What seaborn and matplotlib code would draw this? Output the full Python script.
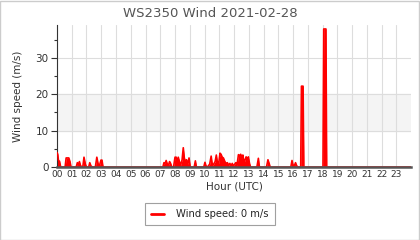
import matplotlib
matplotlib.use("Agg")
import matplotlib.pyplot as plt
import seaborn as sns
import pandas as pd
from matplotlib.patches import Rectangle
from matplotlib.ticker import MultipleLocator

title = "WS2350 Wind 2021-02-28"
x_label = "Hour (UTC)"
y_label = "Wind speed (m/s)"
legend_label = "Wind speed: 0 m/s"
hour_labels = [f"{h:02d}" for h in range(24)]

hours = [0.0, 0.05, 0.1, 0.17, 0.25, 0.55, 0.62, 0.7, 0.8, 0.88, 0.95, 1.3, 1.38, 1.45, 1.52, 1.6,
         1.75, 1.83, 1.92, 2.0, 2.15, 2.22, 2.3, 2.4, 2.6, 2.7, 2.78, 2.85, 2.98, 3.05, 3.12,
         7.18, 7.25, 7.33, 7.4, 7.48, 7.56, 7.63, 7.7, 7.78, 7.9, 8.0, 8.08, 8.15, 8.22, 8.3, 8.38,
         8.48, 8.56, 8.63, 8.7, 8.78, 8.86, 8.95, 9.03, 9.3, 9.38, 9.45, 9.95, 10.03, 10.1, 10.2,
         10.35, 10.45, 10.53, 10.62, 10.72, 10.8, 10.88, 10.96, 11.05, 11.12, 11.2, 11.28, 11.38,
         11.46, 11.55, 11.63, 11.72, 11.8, 11.88, 11.96, 12.05, 12.12, 12.2, 12.3, 12.38, 12.45,
         12.52, 12.6, 12.68, 12.75, 12.82, 12.9, 12.97, 13.05, 13.12, 13.55, 13.65, 13.72, 14.2,
         14.3, 14.38, 14.45, 15.85, 15.93, 16.0, 16.1, 16.17, 16.25, 16.35, 16.52, 16.57, 16.68,
         16.73, 18.03, 18.08, 18.23, 18.28, 24.0]
speeds = [4.0, 3.5, 1.8, 1.6, 0.0, 0.0, 2.5, 2.5, 2.5, 1.5, 0.0, 0.0, 1.2, 0.6, 1.5, 0.3,
          0.0, 2.7, 0.8, 0.0, 0.0, 1.2, 0.3, 0.0, 0.0, 2.7, 1.0, 0.0, 1.9, 1.9, 0.0,
          0.0, 1.2, 1.0, 1.8, 0.8, 0.5, 1.5, 1.0, 0.0, 0.0, 2.7, 2.7, 1.2, 2.7, 1.5, 0.5,
          2.0, 5.3, 2.5, 1.5, 2.0, 0.8, 2.5, 0.0, 0.0, 1.7, 0.0, 0.0, 1.3, 0.3, 0.0,
          0.8, 3.0, 0.5, 0.8, 1.5, 3.3, 1.0, 1.0, 3.8, 3.5, 2.7, 2.5, 1.5,
          1.0, 1.2, 0.5, 1.0, 0.3, 1.0, 0.3, 0.8, 1.2, 0.5, 3.4, 3.0, 3.5,
          2.5, 3.3, 1.0, 2.0, 2.8, 2.0, 2.8, 1.0, 0.0, 0.0, 2.4, 0.0, 0.0,
          2.0, 1.0, 0.0, 0.0, 1.8, 0.5, 0.5, 1.2, 0.3, 0.0, 0.0, 22.2, 22.2,
          0.0, 0.0, 37.9, 37.9, 0.0, 0.0]

df = pd.DataFrame({"hour": hours, "speed": speeds})

sns.set_style("white")
plt.rcParams["font.family"] = ["DejaVu Sans"]

fig = plt.figure(figsize=(4.2, 2.4), dpi=100)
ax = fig.add_axes([0.1357, 0.304, 0.843, 0.592])

ax.axhspan(10, 20, color="#f4f4f4", zorder=0)
ax.fill_between(df["hour"], 0, df["speed"], color="#ff0000", linewidth=0, zorder=2)
sns.lineplot(data=df, x="hour", y="speed", ax=ax, color="#ff0000", linewidth=1.2,
             label=legend_label, zorder=3)

ax.set_xlim(0, 24)
ax.set_ylim(0, 39)
ax.set_xticks(range(24))
ax.set_xticklabels(hour_labels)
ax.set_yticks([0, 10, 20, 30])
ax.yaxis.set_minor_locator(MultipleLocator(5))
ax.grid(True, axis="both", which="major", color="#dddddd", linewidth=0.8, zorder=1)
ax.set_axisbelow(True)

ax.tick_params(axis="x", labelsize=6.5, colors="#333333", length=0, pad=2)
ax.tick_params(axis="y", which="major", labelsize=7.5, colors="#333333", length=4, width=0.8,
               left=True, pad=2)
ax.tick_params(axis="y", which="minor", length=2.5, width=0.8, left=True, color="#333333")

for s in ["top", "right"]:
    ax.spines[s].set_visible(False)
ax.spines["left"].set_color("#333333")
ax.spines["left"].set_linewidth(0.8)
ax.spines["bottom"].set_color("#555555")
ax.spines["bottom"].set_linewidth(1.8)
ax.spines["bottom"].set_zorder(4)

ax.set_title(title, fontsize=9.5, color="#555555", pad=6, x=0.432)
ax.set_xlabel(x_label, fontsize=7.5, color="#333333", labelpad=2)
ax.set_ylabel(y_label, fontsize=7.5, color="#333333", labelpad=9)

leg = ax.legend(loc="upper center", bbox_to_anchor=(0.432, -0.255), frameon=True, fancybox=False,
                fontsize=7.2, handlelength=1.3, borderpad=0.6, handletextpad=1.2,
                borderaxespad=0)
leg.get_frame().set_edgecolor("#888888")
leg.get_frame().set_linewidth(0.8)
for line in leg.get_lines():
    line.set_linewidth(2)

fig.patches.append(Rectangle((0.001, 0.002), 0.997, 0.995, transform=fig.transFigure,
                             fill=False, edgecolor="#cccccc", linewidth=1))

fig.savefig("out.png", dpi=100)
